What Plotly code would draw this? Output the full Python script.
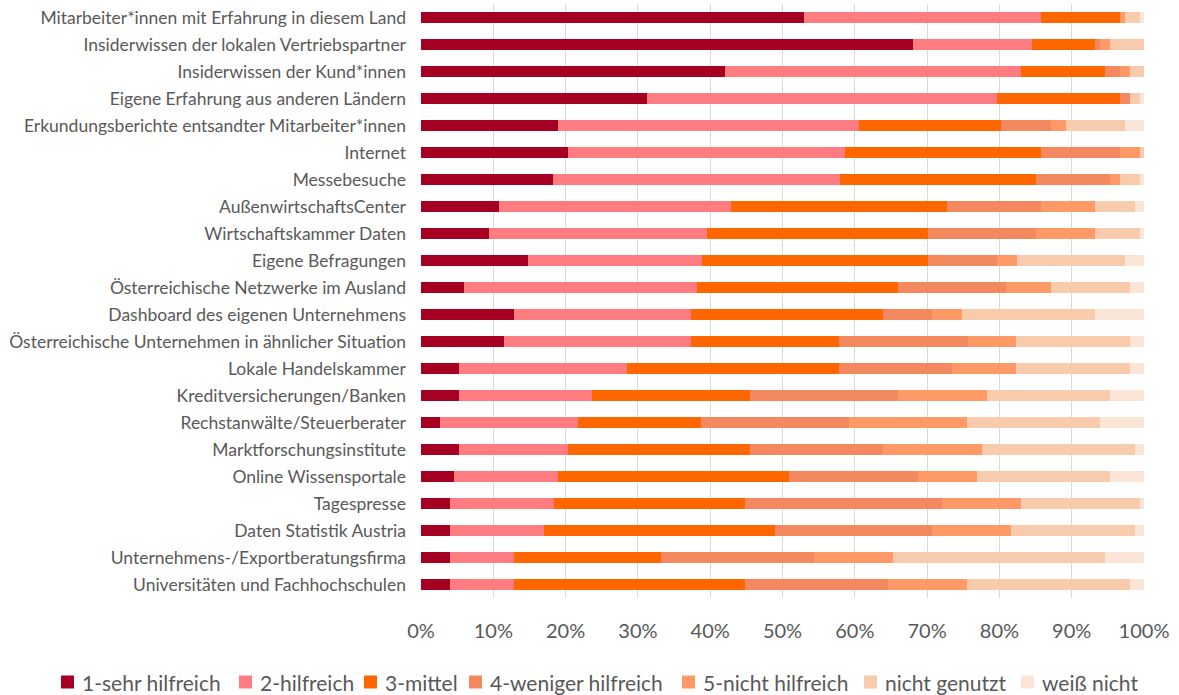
import plotly.graph_objects as go

categories = [
    "Mitarbeiter*innen mit Erfahrung in diesem Land",
    "Insiderwissen der lokalen Vertriebspartner",
    "Insiderwissen der Kund*innen",
    "Eigene Erfahrung aus anderen Ländern",
    "Erkundungsberichte entsandter Mitarbeiter*innen",
    "Internet",
    "Messebesuche",
    "AußenwirtschaftsCenter",
    "Wirtschaftskammer Daten",
    "Eigene Befragungen",
    "Österreichische Netzwerke im Ausland",
    "Dashboard des eigenen Unternehmens",
    "Österreichische Unternehmen in ähnlicher Situation",
    "Lokale Handelskammer",
    "Kreditversicherungen/Banken",
    "Rechstanwälte/Steuerberater",
    "Marktforschungsinstitute",
    "Online Wissensportale",
    "Tagespresse",
    "Daten Statistik Austria",
    "Unternehmens-/Exportberatungsfirma",
    "Universitäten und Fachhochschulen",
]

sehr_hilfreich = [53.0, 68.0, 42.1, 31.3, 18.9, 20.3, 18.3, 10.8, 9.4, 14.8, 5.9,
                  12.8, 11.5, 5.3, 5.3, 2.6, 5.3, 4.6, 4.0, 4.0, 4.0, 4.0]
hilfreich = [32.8, 16.5, 40.9, 48.4, 41.7, 38.3, 39.6, 32.1, 30.1, 24.0, 32.3,
             24.6, 25.9, 23.2, 18.4, 19.1, 15.1, 14.4, 14.4, 13.0, 8.8, 8.8]
mittel = [10.9, 8.7, 11.6, 17.0, 19.6, 27.2, 27.2, 29.9, 30.6, 31.3, 27.8,
          26.5, 20.4, 29.3, 21.8, 17.0, 25.1, 31.9, 26.4, 32.0, 20.4, 32.0]
weniger_hilfreich = [0.0, 0.7, 2.1, 1.4, 6.9, 10.9, 10.2, 13.0, 15.0, 9.5, 14.9,
                     6.8, 17.8, 15.7, 20.5, 20.5, 18.4, 17.8, 27.3, 21.7, 21.2, 19.8]
nicht_hilfreich = [0.7, 1.4, 1.4, 0.0, 2.1, 2.7, 1.4, 7.4, 8.1, 2.8, 6.2,
                   4.1, 6.7, 8.8, 12.3, 16.3, 13.7, 8.2, 10.9, 10.9, 10.9, 10.9]
nicht_genutzt = [2.0, 4.7, 1.9, 1.3, 8.2, 0.6, 2.7, 5.5, 6.2, 15.0, 11.0,
                 18.4, 15.8, 15.8, 17.0, 18.4, 21.1, 18.4, 16.4, 17.1, 29.3, 22.6]
weiss_nicht = [0.6, 0.0, 0.0, 0.6, 2.6, 0.0, 0.6, 1.3, 0.6, 2.6, 1.9,
               6.8, 1.9, 1.9, 4.7, 6.1, 1.3, 4.7, 0.6, 1.3, 5.4, 1.9]

series_names = ["1-sehr hilfreich", "2-hilfreich", "3-mittel", "4-weniger hilfreich",
                "5-nicht hilfreich", "nicht genutzt", "weiß nicht"]
series_values = [sehr_hilfreich, hilfreich, mittel, weniger_hilfreich,
                 nicht_hilfreich, nicht_genutzt, weiss_nicht]
colors = ["#A50021", "#FF7C80", "#FF6600", "#F4895F", "#FF9966", "#F8CBAD", "#FBE5D6"]

tick_vals = [0, 10, 20, 30, 40, 50, 60, 70, 80, 90, 100]
tick_text = [f"{v}%" for v in tick_vals]

# figure geometry (pixels)
W, H = 1179, 695
ML, MR, MT, MB = 421, 35, 4, 97
PW, PH = W - ML - MR, H - MT - MB

fig = go.Figure()
for name, vals, col in zip(series_names, series_values, colors):
    fig.add_trace(go.Bar(
        y=categories, x=vals, name=name, orientation="h",
        marker=dict(color=col, line=dict(width=0)),
        showlegend=False,
    ))

font_fam = "Lato, 'Open Sans', sans-serif"

# custom one-row legend (Excel-like spacing)
legend_swatch_px = [61, 239, 364, 469, 682, 864, 1021]
legend_y_px = 682
sw = 13
shapes, annotations = [], []
for name, col, sx in zip(series_names, colors, legend_swatch_px):
    x0 = (sx - ML) / PW
    x1 = (sx + sw - ML) / PW
    y0 = (MT + PH - (legend_y_px + sw / 2)) / PH
    y1 = (MT + PH - (legend_y_px - sw / 2)) / PH
    shapes.append(dict(type="rect", xref="paper", yref="paper",
                       x0=x0, x1=x1, y0=y0, y1=y1,
                       fillcolor=col, line=dict(width=0)))
    annotations.append(dict(
        xref="paper", yref="paper", x=(sx + sw + 6 - ML) / PW,
        y=(MT + PH - legend_y_px) / PH, xanchor="left", yanchor="middle",
        text=name, showarrow=False,
        font=dict(size=21, color="#595959", family=font_fam),
    ))

fig.update_layout(
    barmode="stack",
    barnorm="percent",
    bargap=0.59,
    width=W, height=H,
    margin=dict(l=ML, r=MR, t=MT, b=MB, autoexpand=False),
    plot_bgcolor="white", paper_bgcolor="white",
    font=dict(family=font_fam, color="#595959"),
    showlegend=False,
    shapes=shapes,
    annotations=annotations,
    xaxis=dict(
        range=[0, 100], tickvals=tick_vals, ticktext=tick_text,
        showgrid=True, gridcolor="#D9D9D9", gridwidth=1.3,
        zeroline=False, showline=False, automargin=False,
        tickfont=dict(size=20, color="#595959", family=font_fam),
        ticklabelstandoff=19,
    ),
    yaxis=dict(
        autorange="reversed", showgrid=False, zeroline=False, showline=False,
        automargin=False,
        tickfont=dict(size=17.5, color="#595959", family=font_fam),
        ticklabelstandoff=14,
    ),
)

fig.write_html(
    "out.html",
    config={"displayModeBar": False},
    post_script="document.body.style.margin='0';document.body.style.overflow='hidden';",
)
